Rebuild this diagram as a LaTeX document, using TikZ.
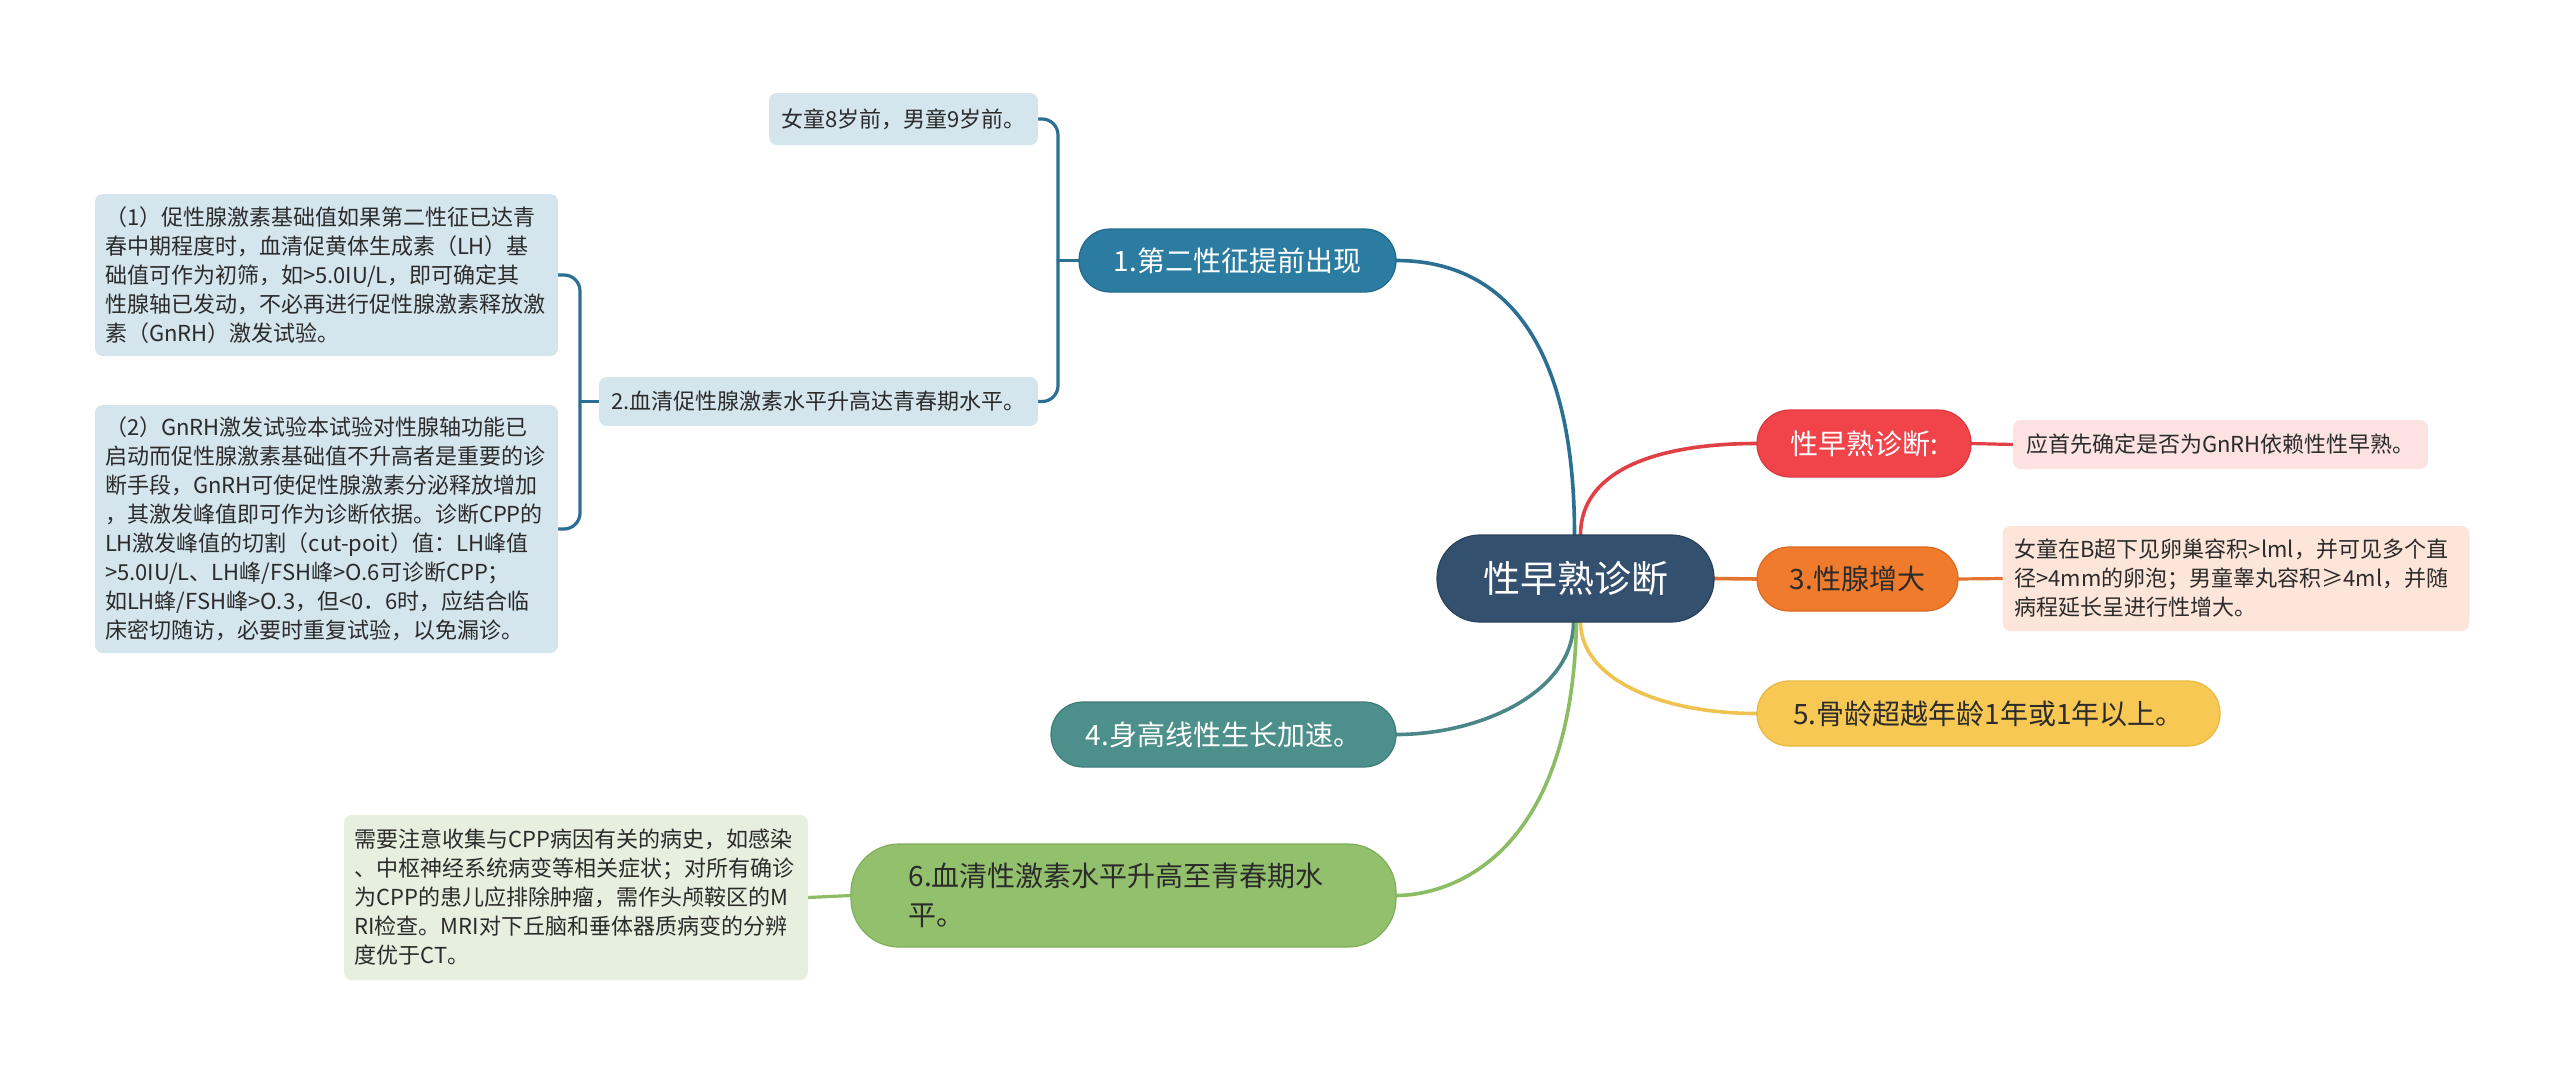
\documentclass[tikz,border=0pt]{standalone}
\usepackage{fontspec}
\setmainfont{Noto Sans CJK SC}
\usetikzlibrary{calc,backgrounds}
\pgfdeclarelayer{bottom}
\pgfsetlayers{bottom,background,main}
\newcommand\myfs[2]{\fontsize{#1}{#2}\selectfont}
\definecolor{rootc}{HTML}{34506F}\definecolor{rootd}{HTML}{2A4259}
\definecolor{bluec}{HTML}{2C7CA1}\definecolor{blued}{HTML}{236A8A}\definecolor{bluel}{HTML}{2B6F92}
\definecolor{cblue}{HTML}{D4E5ED}
\definecolor{redc}{HTML}{F0444A}\definecolor{redd}{HTML}{D93A3F}\definecolor{redl}{HTML}{E04045}
\definecolor{pinkc}{HTML}{FDE2E2}
\definecolor{orc}{HTML}{F07B2D}\definecolor{ord}{HTML}{D96A22}\definecolor{orl}{HTML}{E2742F}
\definecolor{peachc}{HTML}{FDE6D9}
\definecolor{yelc}{HTML}{F7C853}\definecolor{yeld}{HTML}{E8B940}\definecolor{yell}{HTML}{F0C250}
\definecolor{tealc}{HTML}{4D8F8B}\definecolor{teald}{HTML}{3F7C78}\definecolor{teall}{HTML}{4A8786}
\definecolor{grc}{HTML}{93C06C}\definecolor{grd}{HTML}{80AE5B}\definecolor{grl}{HTML}{8CBC63}
\definecolor{lgreen}{HTML}{E7F0DE}
\definecolor{txt}{HTML}{2B2B2B}
\begin{document}
\begin{tikzpicture}[x=1pt,y=-1pt,
  every node/.style={inner sep=0pt, outer sep=0pt},
  box/.style={rounded corners=8pt, text=txt, align=left, text width=443pt, font=\myfs{22}{29}},
  pill/.style={rounded corners=#1, align=center, line width=1.2pt, font=\myfs{28}{39}},
  conn/.style={line width=3.6pt, line cap=round},
  conn2/.style={line width=3.2pt, line cap=round}]
\begin{pgfonlayer}{bottom}
\fill[white] (0,0) rectangle (2560,1074);
\end{pgfonlayer}
\useasboundingbox (0,0) rectangle (2560,1074);

% root
\node[pill=43pt, fill=rootc, draw=rootd, text=white, minimum width=277pt, minimum height=87pt, font=\myfs{37}{44}] (root) at (1575.5,578.5) {性早熟诊断};

% branch 1
\node[pill=31pt, fill=bluec, draw=blued, text=white, minimum width=317pt, minimum height=63pt] (b1) at (1237.5,260.5) {1.第二性征提前出现};
\node[box, fill=cblue, align=center, text width=250pt, minimum width=269pt, minimum height=52pt] (q1) at (903.5,119) {女童8岁前，男童9岁前。};
\node[box, fill=cblue, align=center, text width=425pt, minimum width=439pt, minimum height=49pt] (q2) at (818.5,401.5) {2.血清促性腺激素水平升高达青春期水平。};
\node[box, fill=cblue, minimum width=463pt, minimum height=162pt] (s1) at (326.5,275) {（1）促性腺激素基础值如果第二性征已达青\\春中期程度时，血清促黄体生成素（LH）基\\础值可作为初筛，如>5.0IU/L，即可确定其\\性腺轴已发动，不必再进行促性腺激素释放激\\素（GnRH）激发试验。};
\node[box, fill=cblue, minimum width=463pt, minimum height=248pt] (s2) at (326.5,529) {（2）GnRH激发试验本试验对性腺轴功能已\\启动而促性腺激素基础值不升高者是重要的诊\\断手段，GnRH可使促性腺激素分泌释放增加\\，其激发峰值即可作为诊断依据。诊断CPP的\\LH激发峰值的切割（cut-poit）值：LH峰值\\>5.0IU/L、LH峰/FSH峰>O.6可诊断CPP；\\如LH蜂/FSH峰>O.3，但<0．6时，应结合临\\床密切随访，必要时重复试验，以免漏诊。};

% red
\node[pill=33pt, fill=redc, draw=redd, text=white, minimum width=214pt, minimum height=67pt] (rd) at (1864,443.5) {性早熟诊断:};
\node[box, fill=pinkc, align=center, text width=400pt, minimum width=415pt, minimum height=49pt] (pk) at (2220.5,444.5) {应首先确定是否为GnRH依赖性性早熟。};

% orange
\node[pill=32pt, fill=orc, draw=ord, text=txt, minimum width=201pt, minimum height=64pt] (or) at (1857.5,579) {3.性腺增大};
\node[box, fill=peachc, minimum width=467pt, minimum height=105pt] (pc) at (2236,578.5) {女童在B超下见卵巢容积>lml，并可见多个直\\径>4mm的卵泡；男童睾丸容积≥4ml，并随\\病程延长呈进行性增大。};

% yellow
\node[pill=32pt, fill=yelc, draw=yeld, text=txt, minimum width=463pt, minimum height=65pt] (ye) at (1988.5,713.5) {5.骨龄超越年龄1年或1年以上。};

% teal
\node[pill=32pt, fill=tealc, draw=teald, text=white, minimum width=345pt, minimum height=65pt] (te) at (1223.5,734.5) {4.身高线性生长加速。};

% green
\node[pill=48pt, fill=grc, draw=grd, text=txt, align=left, text width=430pt, minimum width=545pt, minimum height=103pt] (gr) at (1123.5,895.5) {6.血清性激素水平升高至青春期水\\平。};
\node[box, fill=lgreen, minimum width=464pt, minimum height=165pt] (lg) at (576,897.5) {需要注意收集与CPP病因有关的病史，如感染\\、中枢神经系统病变等相关症状；对所有确诊\\为CPP的患儿应排除肿瘤，需作头颅鞍区的M\\RI检查。MRI对下丘脑和垂体器质病变的分辨\\度优于CT。};

\coordinate (j1) at (1058,260.5);
\coordinate (j2) at (580,401.5);

\begin{scope}[on background layer]
\draw[conn, draw=bluel] ($(root.north)+(-1,0)$) .. controls ($(root.north)+(-1,-190)$) and ($(b1.east)+(110,0)$) .. (b1.east);
\draw[conn, draw=redl] ($(root.north)+(5,0)$) .. controls ($(root.north)+(5,-65)$) and ($(rd.west)+(-100,0)$) .. (rd.west);
\draw[conn, draw=orl] (root.east) -- (or.west);
\draw[conn, draw=yell] ($(root.south)+(5,0)$) .. controls ($(root.south)+(5,55)$) and ($(ye.west)+(-100,0)$) .. (ye.west);
\draw[conn, draw=teall] ($(root.south)+(-2,0)$) .. controls ($(root.south)+(-2,70)$) and ($(te.east)+(85,0)$) .. (te.east);
\draw[conn, draw=grl] ($(root.south)+(1,0)$) .. controls ($(root.south)+(-4,240)$) and ($(gr.east)+(50,0)$) .. (gr.east);
\draw[conn2, draw=redl] (rd.east) -- (pk.west);
\draw[conn2, draw=orl] (or.east) -- (pc.west);
\draw[conn2, draw=grl] (gr.west) -- (lg.east);
\draw[conn2, draw=bluel] (b1.west) -- (j1);
\draw[conn2, draw=bluel, rounded corners=16pt] (q1.east) -| (j1) |- (q2.east);
\draw[conn2, draw=bluel] (q2.west) -- (j2);
\draw[conn2, draw=bluel, rounded corners=16pt] (s1.east) -| (j2) |- (s2.east);
\end{scope}
\end{tikzpicture}
\end{document}
